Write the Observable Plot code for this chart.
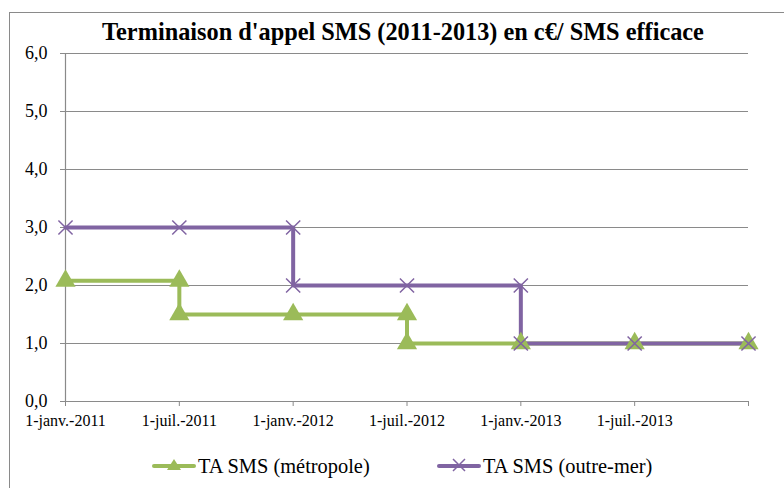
<!DOCTYPE html>
<html><head><meta charset="utf-8">
<script src="https://cdn.jsdelivr.net/npm/d3@7"></script>
<script src="https://cdn.jsdelivr.net/npm/@observablehq/plot@0.6"></script>
<style>
body{margin:0;background:#fff;font-family:'Liberation Serif';}
#wrap{position:relative;width:784px;height:488px;overflow:hidden;}
#frame{position:absolute;left:9px;top:12px;width:800px;height:500px;border:1px solid #8a8a8a;box-sizing:border-box;}
#title{position:absolute;left:0;width:806px;top:20px;line-height:24px;text-align:center;font-family:'Liberation Serif';font-weight:bold;font-size:24.3px;color:#000;white-space:nowrap;}
#chart{position:absolute;left:0;top:0;}
#chart svg text{font-family:'Liberation Serif';}
.lg{position:absolute;top:456px;height:20px;display:flex;align-items:center;white-space:nowrap;font-family:'Liberation Serif';font-size:20.4px;line-height:20px;color:#000;}
.lg svg{margin-right:2px;}
</style></head>
<body>
<div id="wrap">
<div id="frame"></div>
<div id="chart"></div>
<div id="title">Terminaison d'appel SMS (2011-2013) en c€/ SMS efficace</div>
<div id="legend"></div>
</div>
<script>
const dateLabels = ["1-janv.-2011","1-juil.-2011","1-janv.-2012","1-juil.-2012","1-janv.-2013","1-juil.-2013",""];
const metroIdx = [0,1,1,2,3,3,4,5,6];
const metroVal = [2.08,2.08,1.5,1.5,1.5,1.0,1.0,1.0,1.0];
const outreIdx = [0,1,2,2,3,4,4,5,6];
const outreVal = [3,3,3,2,2,2,1,1,1];
const seriesNames = ["TA SMS (métropole)","TA SMS (outre-mer)"];
const yTicks = [0,1,2,3,4,5,6];

const green = "#9BBB59", purple = "#8064A2";
const metro = metroIdx.map((x,i)=>({x, y: metroVal[i]}));
const outre = outreIdx.map((x,i)=>({x, y: outreVal[i]}));
const fmt = d => d3.format(".1f")(d).replace(".", ",");

const chart = Plot.plot({
  width: 784, height: 430,
  marginLeft: 65, marginRight: 36, marginTop: 53, marginBottom: 29,
  style: {fontFamily: "Liberation Serif", background: "transparent", overflow: "visible"},
  x: {type: "linear", domain: [0, 6], axis: null},
  y: {type: "linear", domain: [0, 6], axis: null},
  marks: [
    Plot.gridY(yTicks, {stroke: "#8a8a8a", strokeOpacity: 1, strokeWidth: 1.2}),
    Plot.ruleX([0], {stroke: "#8a8a8a", strokeWidth: 1.2}),
    Plot.ruleY([0], {stroke: "#8a8a8a", strokeWidth: 1.2}),
    Plot.axisY(yTicks, {tickSize: 5, tickFormat: fmt, fontSize: 18, stroke: "#8a8a8a", fill: "#000", tickPadding: 13, textAnchor: "end", label: null}),
    Plot.axisX(d3.range(dateLabels.length), {tickSize: 5, tickFormat: i => dateLabels[i], fontSize: 16, stroke: "#8a8a8a", fill: "#000", tickPadding: 8, label: null}),
    Plot.line(metro, {x: "x", y: "y", stroke: green, strokeWidth: 4}),
    Plot.line(outre, {x: "x", y: "y", stroke: purple, strokeWidth: 4}),
    Plot.dot(metro, {x: "x", y: "y", symbol: "triangle", fill: green, r: 7.5}),
    Plot.dot(outre, {x: "x", y: "y", symbol: "times", stroke: purple, strokeWidth: 1.5, r: 6.5})
  ]
});
document.getElementById("chart").appendChild(chart);

const legend = document.getElementById("legend");
const items = [
  {name: seriesNames[0], color: green, left: 152, sym: "tri"},
  {name: seriesNames[1], color: purple, left: 437, sym: "x"}
];
for (const it of items) {
  const d = document.createElement("div");
  d.className = "lg";
  d.style.left = it.left + "px";
  const mark = it.sym === "tri"
    ? `<path d="M22,3 L29,14 L15,14 Z" fill="${it.color}"/>`
    : `<path d="M16,3 L28,15 M28,3 L16,15" stroke="${it.color}" stroke-width="1.5"/>`;
  d.innerHTML = `<svg width="44" height="20"><line x1="2" x2="42" y1="10" y2="10" stroke="${it.color}" stroke-width="4" stroke-linecap="round"/>${mark}</svg><span>${it.name}</span>`;
  legend.appendChild(d);
}
</script>
</body></html>
